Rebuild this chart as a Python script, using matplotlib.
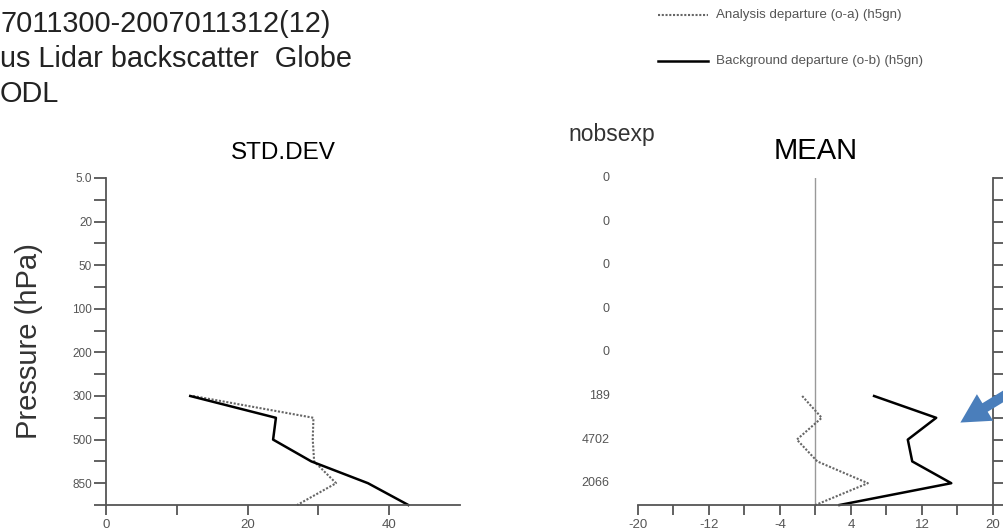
import matplotlib
matplotlib.use("Agg")
import matplotlib.pyplot as plt
from matplotlib.ticker import FixedLocator

plt.rcParams['font.family'] = ['Liberation Sans', 'DejaVu Sans']
plt.rcParams['axes.unicode_minus'] = False

# pressure levels (categorical axis, index 0..7)
levels = ["5.0", "20", "50", "100", "200", "300", "500", "850"]
nobsexp = [0, 0, 0, 0, 0, 189, 4702, 2066]

# profile points sit on level index (half steps between levels)
prof_pos = [5, 5.5, 6, 6.5, 7, 7.5]

std_oa = [12.3, 29.3, 29.2, 29.4, 32.5, 27.0]
std_ob = [11.9, 24.0, 23.6, 29.0, 37.0, 42.7]
mean_oa = [-1.5, 0.7, -2.1, 0.2, 5.9, 0.0]
mean_ob = [6.6, 13.6, 10.4, 10.9, 15.3, 2.7]

W, H = 1004, 532
fig = plt.figure(figsize=(W / 100, H / 100), dpi=100)

spine_col = "#555555"
lab_col = "#555555"


def px_axes(x0, x1, ytop, ybot):
    return fig.add_axes([x0 / W, (H - ybot) / H, (x1 - x0) / W, (ybot - ytop) / H])


oa_style = dict(color="#666666", lw=1.5, ls=(0, (1, 0.8)))
ob_style = dict(color="black", lw=1.8)

# ---- STD.DEV panel
ax1 = px_axes(106, 460, 178, 505)
ax1.plot(std_oa, prof_pos, **oa_style, clip_on=False)
ax1.plot(std_ob, prof_pos, **ob_style, clip_on=False)
ax1.set_xlim(0, 50)
ax1.set_ylim(7.5, 0)
for s in ("top", "right"):
    ax1.spines[s].set_visible(False)
for s in ("left", "bottom"):
    ax1.spines[s].set_color(spine_col)
    ax1.spines[s].set_linewidth(1.3)
ax1.set_yticks(range(len(levels)))
ax1.set_yticklabels(levels)
ax1.yaxis.set_minor_locator(FixedLocator([i + 0.5 for i in range(len(levels))]))
ax1.set_xticks([0, 20, 40])
ax1.xaxis.set_minor_locator(FixedLocator([10, 30]))
ax1.tick_params(which="both", axis="y", length=9, width=1.3, color=spine_col,
                labelsize=8.5, labelcolor=lab_col, pad=1)
ax1.tick_params(which="both", axis="x", length=7, width=1.3, color=spine_col,
                labelsize=9.5, labelcolor=lab_col, pad=3)
ax1.set_title("STD.DEV", fontsize=17.5, pad=14)
ax1.set_ylabel("Pressure (hPa)", fontsize=21, labelpad=21, color="#333333")

# ---- MEAN panel
ax2 = px_axes(638, 993, 178, 505)
ax2.axvline(0, color="#999999", lw=1)
ax2.plot(mean_oa, prof_pos, **oa_style, clip_on=False)
ax2.plot(mean_ob, prof_pos, **ob_style, clip_on=False)
ax2.set_xlim(-20, 20)
ax2.set_ylim(7.5, 0)
for s in ("top", "left"):
    ax2.spines[s].set_visible(False)
for s in ("right", "bottom"):
    ax2.spines[s].set_color(spine_col)
    ax2.spines[s].set_linewidth(1.3)
ax2.yaxis.tick_right()
ax2.set_yticks([i * 0.5 for i in range(16)])
ax2.set_yticklabels([])
ax2.set_xticks([-20, -12, -4, 4, 12, 20])
ax2.xaxis.set_minor_locator(FixedLocator([-16, -8, 0, 8, 16]))
ax2.tick_params(which="both", axis="y", length=12, width=1.3, color=spine_col)
ax2.tick_params(which="both", axis="x", length=7, width=1.3, color=spine_col,
                labelsize=9.5, labelcolor=lab_col, pad=3)
ax2.set_title("MEAN", fontsize=21, pad=14)

# nobsexp column
for i, n in enumerate(nobsexp):
    ax2.text(-23.2, i, str(n), ha="right", va="center", fontsize=9,
             color=lab_col, clip_on=False)
fig.text(612 / W, 1 - 134 / H, "nobsexp", ha="center", va="center",
         fontsize=16.5, color="#333333")

# header text
fig.text(0, 1 - 24 / H, "7011300-2007011312(12)", fontsize=20.8,
         va="center", ha="left", color="#222222")
fig.text(0, 1 - 59 / H, "us Lidar backscatter  Globe", fontsize=20.8,
         va="center", ha="left", color="#222222")
fig.text(0, 1 - 94 / H, "ODL", fontsize=20.8,
         va="center", ha="left", color="#222222")

# legend entries
fig.lines.append(plt.Line2D([658 / W, 708 / W], [1 - 15 / H, 1 - 15 / H],
                            transform=fig.transFigure, **oa_style))
fig.lines.append(plt.Line2D([658 / W, 708 / W], [1 - 61 / H, 1 - 61 / H],
                            transform=fig.transFigure, **ob_style))
fig.text(716 / W, 1 - 15 / H, "Analysis departure (o-a) (h5gn)", fontsize=9.6,
         va="center", color="#555555")
fig.text(716 / W, 1 - 61 / H, "Background departure (o-b) (h5gn)", fontsize=9.6,
         va="center", color="#555555")

# highlight arrow
ax2.annotate("", xy=(958, H - 424), xycoords="figure pixels",
             xytext=(1012, H - 391), textcoords="figure pixels",
             arrowprops=dict(arrowstyle="simple,head_length=1.3,head_width=1.4,tail_width=0.45",
                             mutation_scale=16, color="#4A7EBB", lw=0),
             annotation_clip=False)

fig.savefig("out.png", dpi=100)
